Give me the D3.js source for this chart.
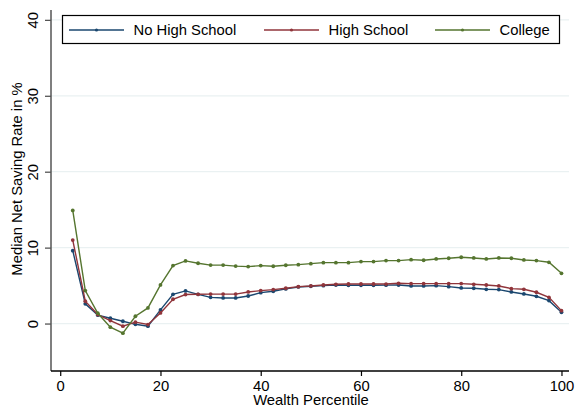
<!DOCTYPE html>
<html><head><meta charset="utf-8">
<script src="https://cdn.jsdelivr.net/npm/d3@7"></script>
<style>body{margin:0;background:#fff}svg{display:block}text{font-family:"Liberation Sans",Arial,sans-serif;fill:#000}</style>
</head><body><svg id="c" width="577" height="409"></svg>
<script>
const percentiles = [2.5,5,7.5,10,12.5,15,17.5,20,22.5,25,27.5,30,32.5,35,37.5,40,42.5,45,47.5,50,52.5,55,57.5,60,62.5,65,67.5,70,72.5,75,77.5,80,82.5,85,87.5,90,92.5,95,97.5,100];
const noHighSchool = [9.6,2.6,1.1,0.7,0.3,-0.1,-0.35,1.8,3.85,4.3,3.85,3.45,3.37,3.37,3.63,4.07,4.25,4.56,4.82,4.91,4.99,5.08,5.04,5.04,5.04,5.06,5.08,4.95,4.95,4.99,4.86,4.69,4.65,4.51,4.47,4.16,3.9,3.59,3.02,1.49];
const highSchool = [11.0,2.94,1.18,0.39,-0.35,0.18,-0.13,1.4,3.2,3.82,3.85,3.88,3.88,3.88,4.16,4.34,4.47,4.65,4.86,4.95,5.08,5.17,5.21,5.21,5.21,5.2,5.3,5.26,5.26,5.26,5.26,5.26,5.17,5.08,4.95,4.6,4.51,4.12,3.46,1.7];
const college = [14.9,4.34,1.36,-0.48,-1.27,0.96,2.06,5.09,7.63,8.25,7.94,7.7,7.7,7.57,7.5,7.63,7.55,7.68,7.76,7.89,8.02,8.02,8.02,8.16,8.16,8.29,8.29,8.42,8.34,8.51,8.6,8.73,8.64,8.51,8.64,8.6,8.38,8.29,8.07,6.62];
const seriesNames = ["No High School","High School","College"];
const seriesColors = ["#1a476f","#90353b","#55752f"];
const xTicks = [0,20,40,60,80,100];
const yTicks = [0,10,20,30,40];
const xTitle = "Wealth Percentile";
const yTitle = "Median Net Saving Rate in %";

const svg = d3.select("#c");
const L = 51, R = 569, T = 10, B = 371;
const x = d3.scaleLinear().domain([-1.84, 101.5]).range([L, R]);
const y = d3.scaleLinear().domain([-6.25, 41.3]).range([B, T]);
const FS = 14.8;

// grid
svg.append("g").selectAll("line").data(yTicks).join("line")
  .attr("x1", L).attr("x2", R).attr("y1", d => y(d)).attr("y2", d => y(d))
  .attr("stroke", "#eaf1f2").attr("stroke-width", 1.2);

// y axis
const ya = svg.append("g").attr("transform", `translate(${L},0)`)
  .call(d3.axisLeft(y).tickValues(yTicks).tickSize(6).tickPadding(4));
ya.select(".domain").attr("d", `M0,${T}V${B}`).attr("stroke", "#555").attr("stroke-width", 1.5);
ya.selectAll(".tick line").attr("stroke", "#555").attr("stroke-width", 1.3);
ya.selectAll(".tick text").attr("font-size", FS).attr("transform", "rotate(-90)")
  .attr("x", 0).attr("y", -18).attr("dy", "0.35em").attr("text-anchor", "middle").attr("fill", "#000");

// x axis
const xa = svg.append("g").attr("transform", `translate(0,${B})`)
  .call(d3.axisBottom(x).tickValues(xTicks).tickSize(5).tickPadding(4));
xa.select(".domain").attr("d", `M${L},0H${R}`).attr("stroke", "#000").attr("stroke-width", 1.3);
xa.selectAll(".tick line").attr("stroke", "#000").attr("stroke-width", 1.2);
xa.selectAll(".tick text").attr("font-size", FS).attr("fill", "#000");

svg.append("text").attr("x", (L + R) / 2 + 1).attr("y", 405).attr("text-anchor", "middle")
  .attr("font-size", FS).text(xTitle);
svg.append("text").attr("transform", `translate(22,179) rotate(-90)`)
  .attr("text-anchor", "middle").attr("font-size", FS).text(yTitle);

const allSeries = [noHighSchool, highSchool, college];
const line = d3.line().x((d, i) => x(percentiles[i])).y(d => y(d));
allSeries.forEach((s, k) => {
  const g = svg.append("g");
  g.append("path").datum(s).attr("d", line).attr("fill", "none")
    .attr("stroke", seriesColors[k]).attr("stroke-width", 1.4);
  g.selectAll("circle").data(s).join("circle")
    .attr("cx", (d, i) => x(percentiles[i])).attr("cy", d => y(d)).attr("r", 1.9)
    .attr("fill", seriesColors[k]);
});

// legend
const lg = svg.append("g");
lg.append("rect").attr("x", 62.5).attr("y", 15.5).attr("width", 497).attr("height", 28)
  .attr("fill", "#fff").attr("stroke", "#000").attr("stroke-width", 1.2);
const lx = [69, 264, 435];
seriesNames.forEach((n, k) => {
  lg.append("line").attr("x1", lx[k]).attr("x2", lx[k] + 55).attr("y1", 30).attr("y2", 30)
    .attr("stroke", seriesColors[k]).attr("stroke-width", 1.4);
  lg.append("circle").attr("cx", lx[k] + 27.5).attr("cy", 30).attr("r", 1.6).attr("fill", seriesColors[k]);
  lg.append("text").attr("x", lx[k] + 64.5).attr("y", 30).attr("dy", "0.35em")
    .attr("font-size", FS).text(n);
});
</script></body></html>
